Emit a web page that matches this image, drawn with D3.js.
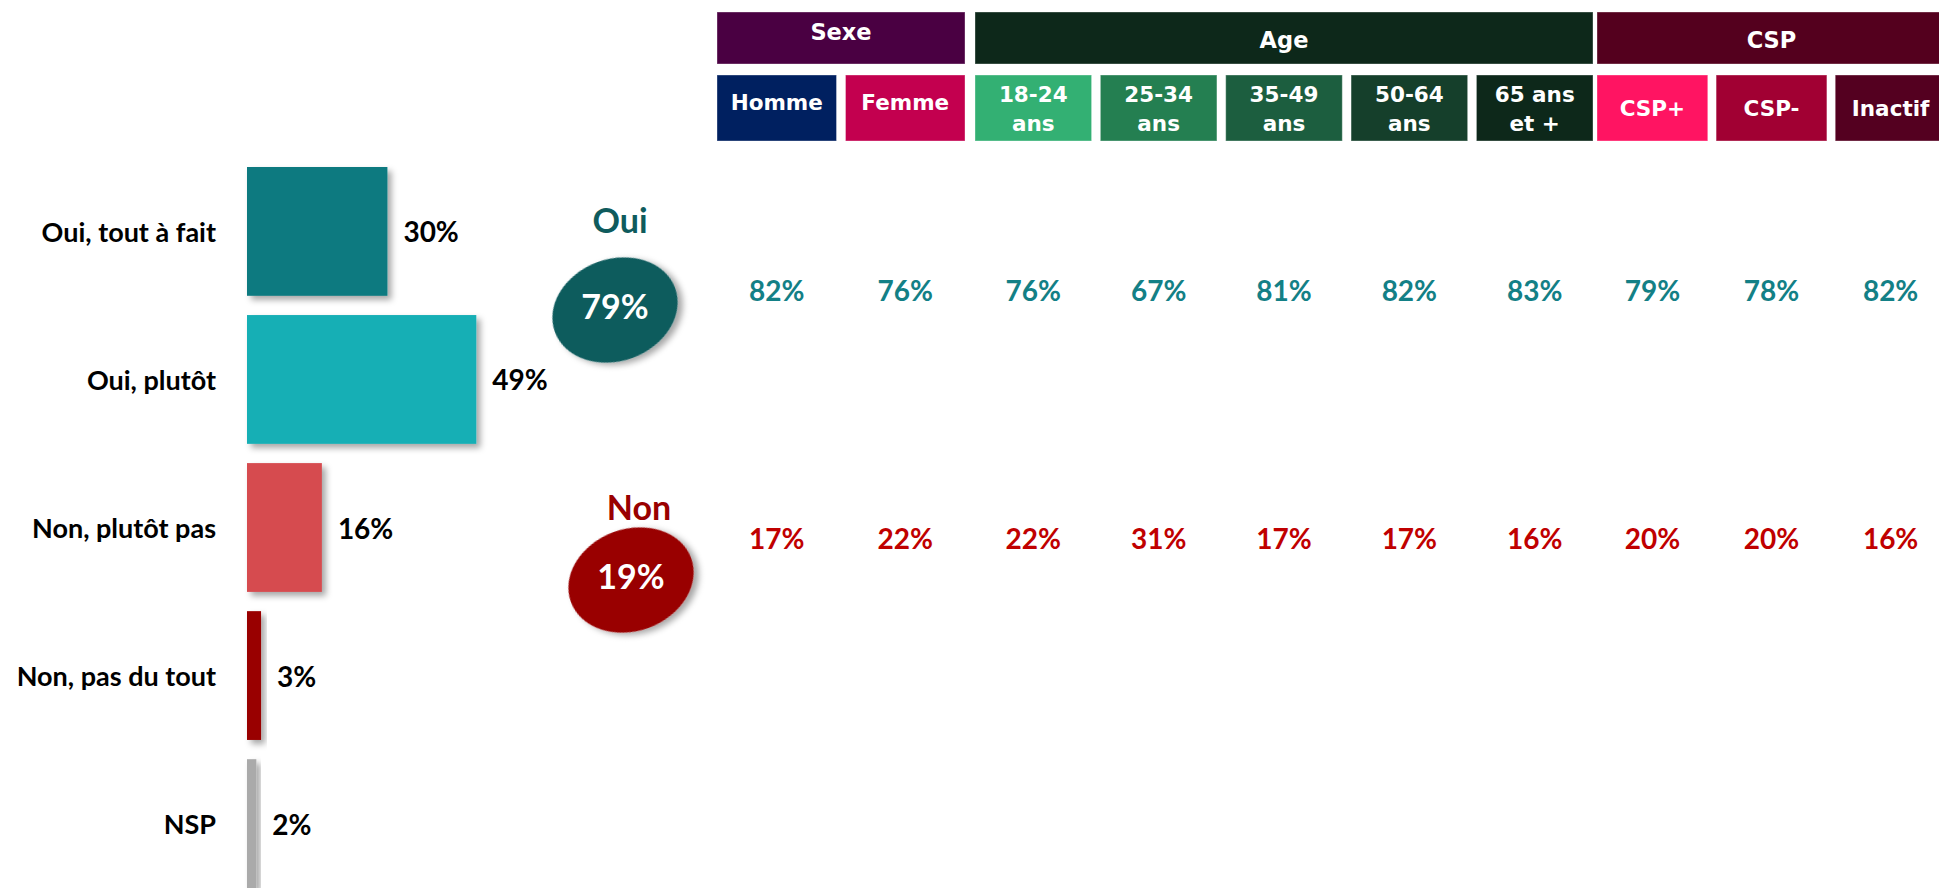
<!DOCTYPE html>
<html lang="fr">
<head>
<meta charset="utf-8">
<title>Oui / Non par cible</title>
<script src="https://cdn.jsdelivr.net/npm/d3@7"></script>
<style>
  html, body { margin: 0; padding: 0; background: #fff; overflow: hidden; }
  svg { display: block; }
</style>
</head>
<body>
<div class="graph"><svg></svg></div>
<script>
// Réponses globales
const categories = ['Oui, tout à fait', 'Oui, plutôt', 'Non, plutôt pas', 'Non, pas du tout', 'NSP']
const values = [30, 49, 16, 3, 2]
const barColors = ['#107a80', '#14afb5', '#d64b50', '#990000', '#aaaaaa']

// Totaux Oui / Non
const summaryLabels = ['Oui', 'Non']
const summaryValues = [79, 19]
const summaryColors = ['#0f5b5d', '#990000']
const rowColors = ['#138086', '#c00000']

// Détail par cible
const groups = ['Sexe', 'Age', 'CSP']
const groupColors = ['#4a0042', '#0d281a', '#54001e']
const columns = ['Homme', 'Femme', '18-24\nans', '25-34\nans', '35-49\nans', '50-64\nans', '65 ans\net +', 'CSP+', 'CSP-', 'Inactif']
const columnGroups = ['Sexe', 'Sexe', 'Age', 'Age', 'Age', 'Age', 'Age', 'CSP', 'CSP', 'CSP']
const columnColors = ['#002060', '#c3004f', '#33b073', '#247f51', '#1c5e3f', '#153f2b', '#0d281a', '#ff1462', '#a10033', '#540020']
const ouiValues = [82, 76, 76, 67, 81, 82, 83, 79, 78, 82]
const nonValues = [17, 22, 22, 31, 17, 17, 16, 20, 20, 16]

const WIDTH = 1939
const HEIGHT = 888
const TEXT_FONT = 'Lato, Carlito, "Open Sans", sans-serif'
const HEADER_FONT = '"DejaVu Sans", Verdana, sans-serif'

const svg = d3.select('.graph').select('svg')
  .attr('width', WIDTH)
  .attr('height', HEIGHT)

/**
 * Adds the soft drop shadow used under the bars and the bubbles.
 */
function appendShadow () {
  svg.append('defs')
    .append('filter')
    .attr('id', 'shadow')
    .attr('x', '-30%')
    .attr('y', '-30%')
    .attr('width', '170%')
    .attr('height', '170%')
    .append('feDropShadow')
    .attr('dx', 4)
    .attr('dy', 4)
    .attr('stdDeviation', 3)
    .attr('flood-color', '#000')
    .attr('flood-opacity', 0.35)
}

/**
 * Draws the horizontal bars of the global answers, with their labels.
 */
function drawBars () {
  const x = d3.scaleLinear().domain([0, 100]).range([0, 468])
  const y = d3.scaleBand().domain(categories).range([167, 888])
    .paddingInner(0.13).paddingOuter(0)
  const color = d3.scaleOrdinal().domain(categories).range(barColors)
  const data = categories.map((c, i) => ({ label: c, value: values[i] }))

  const g = svg.append('g')
    .attr('id', 'bars')
    .attr('transform', 'translate(247, 0)')

  g.selectAll('rect')
    .data(data)
    .join('rect')
    .attr('x', 0)
    .attr('y', d => y(d.label))
    .attr('width', d => x(d.value))
    .attr('height', y.bandwidth())
    .attr('fill', d => color(d.label))
    .attr('filter', 'url(#shadow)')

  g.selectAll('text.value')
    .data(data)
    .join('text')
    .attr('class', 'value')
    .attr('x', d => x(d.value) + 16)
    .attr('y', d => y(d.label) + y.bandwidth() / 2)
    .attr('dominant-baseline', 'central')
    .attr('font-family', TEXT_FONT)
    .attr('font-weight', 700)
    .attr('font-size', 28)
    .attr('fill', '#000')
    .text(d => d.value + '%')

  g.selectAll('text.label')
    .data(data)
    .join('text')
    .attr('class', 'label')
    .attr('x', -31)
    .attr('y', d => y(d.label) + y.bandwidth() / 2)
    .attr('text-anchor', 'end')
    .attr('dominant-baseline', 'central')
    .attr('font-family', TEXT_FONT)
    .attr('font-weight', 700)
    .attr('font-size', 27)
    .attr('fill', '#000')
    .text(d => d.label)
}

/**
 * Draws the two Oui / Non bubbles with their titles.
 */
function drawSummary () {
  const cx = d3.scalePoint().domain(summaryLabels).range([615, 631])
  const cy = d3.scalePoint().domain(summaryLabels).range([310, 580])
  const color = d3.scaleOrdinal().domain(summaryLabels).range(summaryColors)
  const data = summaryLabels.map((s, i) => ({ label: s, value: summaryValues[i] }))

  const g = svg.append('g').attr('id', 'summary')
    .selectAll('g')
    .data(data)
    .join('g')
    .attr('transform', d => 'translate(' + cx(d.label) + ',' + cy(d.label) + ')')

  g.append('ellipse')
    .attr('rx', 64)
    .attr('ry', 51)
    .attr('transform', 'rotate(-20)')
    .attr('fill', d => color(d.label))
    .attr('filter', 'url(#shadow)')

  g.append('text')
    .attr('y', -5)
    .attr('text-anchor', 'middle')
    .attr('dominant-baseline', 'central')
    .attr('font-family', TEXT_FONT)
    .attr('font-weight', 700)
    .attr('font-size', 34)
    .attr('fill', '#fff')
    .text(d => d.value + '%')

  g.append('text')
    .attr('x', d => d.label === 'Oui' ? 5 : 8)
    .attr('y', d => d.label === 'Oui' ? -77 : -60)
    .attr('text-anchor', 'middle')
    .attr('font-family', TEXT_FONT)
    .attr('font-weight', 700)
    .attr('font-size', 34)
    .attr('fill', d => color(d.label))
    .text(d => d.label)
}

/**
 * Builds one band scale per group so that every group keeps its own block.
 *
 * @returns {object} The group extents and a band scale for each group
 */
function columnScales () {
  const extent = d3.scaleOrdinal().domain(groups)
    .range([[717, 965], [975, 1593], [1597, 1946]])
  const scales = {}
  groups.forEach(grp => {
    scales[grp] = d3.scaleBand()
      .domain(columns.filter((c, i) => columnGroups[i] === grp))
      .range(extent(grp))
      .paddingInner(0.07)
  })
  return { extent, scales }
}

/**
 * Draws the two header rows (groups then columns).
 *
 * @param {object} layout The group extents and column scales
 */
function drawHeaders (layout) {
  const groupColor = d3.scaleOrdinal().domain(groups).range(groupColors)
  const columnColor = d3.scaleOrdinal().domain(columns).range(columnColors)

  const gh = svg.append('g').attr('id', 'group-headers')
    .selectAll('g')
    .data(groups)
    .join('g')

  gh.append('rect')
    .attr('x', d => layout.extent(d)[0])
    .attr('y', 12)
    .attr('width', d => layout.extent(d)[1] - layout.extent(d)[0])
    .attr('height', 52)
    .attr('fill', d => groupColor(d))
    .attr('stroke', 'rgba(255,255,255,0.35)')

  gh.append('text')
    .attr('x', d => (layout.extent(d)[0] + layout.extent(d)[1]) / 2)
    .attr('y', d => d === 'Sexe' ? 32 : 40)
    .attr('text-anchor', 'middle')
    .attr('dominant-baseline', 'central')
    .attr('font-family', HEADER_FONT)
    .attr('font-weight', 700)
    .attr('font-size', 22.5)
    .attr('fill', '#fff')
    .text(d => d)

  const ch = svg.append('g').attr('id', 'column-headers')
    .selectAll('g')
    .data(columns.map((c, i) => ({ name: c, group: columnGroups[i] })))
    .join('g')
    .attr('transform', d => 'translate(' + layout.scales[d.group](d.name) + ', 75)')

  ch.append('rect')
    .attr('width', d => layout.scales[d.group].bandwidth())
    .attr('height', 66)
    .attr('fill', d => columnColor(d.name))
    .attr('stroke', 'rgba(255,255,255,0.35)')

  ch.each(function (d) {
    const lines = d.name.split('\n')
    const mid = d.group === 'Sexe' ? 27 : 33
    d3.select(this).selectAll('text')
      .data(lines)
      .join('text')
      .attr('x', layout.scales[d.group].bandwidth() / 2)
      .attr('y', (l, i) => lines.length === 1 ? mid : 19 + i * 29.5)
      .attr('text-anchor', 'middle')
      .attr('dominant-baseline', 'central')
      .attr('font-family', HEADER_FONT)
      .attr('font-weight', 700)
      .attr('font-size', 21.5)
      .attr('fill', '#fff')
      .text(l => l)
  })
}

/**
 * Writes the Oui / Non percentages under each column.
 *
 * @param {object} layout The group extents and column scales
 */
function drawColumnValues (layout) {
  const rowY = d3.scalePoint().domain(summaryLabels).range([290, 538])
  const rowColor = d3.scaleOrdinal().domain(summaryLabels).range(rowColors)
  const rows = [ouiValues, nonValues]
  const data = []
  summaryLabels.forEach((s, r) => {
    columns.forEach((c, i) => {
      data.push({ row: s, name: c, group: columnGroups[i], value: rows[r][i] })
    })
  })

  svg.append('g').attr('id', 'column-values')
    .selectAll('text')
    .data(data)
    .join('text')
    .attr('x', d => layout.scales[d.group](d.name) + layout.scales[d.group].bandwidth() / 2)
    .attr('y', d => rowY(d.row))
    .attr('text-anchor', 'middle')
    .attr('dominant-baseline', 'central')
    .attr('font-family', TEXT_FONT)
    .attr('font-weight', 700)
    .attr('font-size', 28)
    .attr('fill', d => rowColor(d.row))
    .text(d => d.value + '%')
}

appendShadow()
drawBars()
drawSummary()
const layout = columnScales()
drawHeaders(layout)
drawColumnValues(layout)
</script>
</body>
</html>
